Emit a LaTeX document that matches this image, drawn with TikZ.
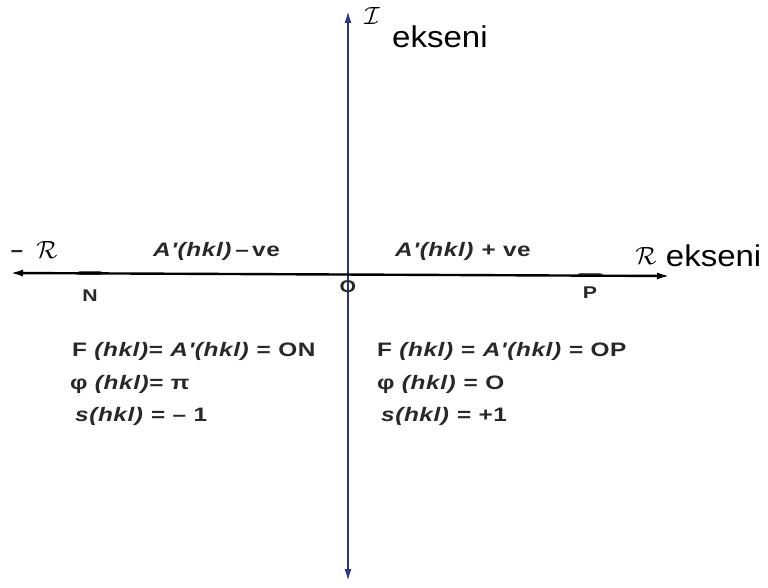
\documentclass[tikz,border=0pt]{standalone}
\usepackage{fontspec}
\setmainfont{Liberation Sans}
\newfontfamily\lblfont[FakeStretch=1.25,LetterSpace=3]{Liberation Sans}
\newfontfamily\ekfont[FakeStretch=1.1]{Liberation Sans}
\usepackage{xcolor}
\usetikzlibrary{arrows.meta,positioning}
\definecolor{axisblue}{RGB}{40,55,130}
\definecolor{txtgray}{RGB}{40,40,40}

\begin{document}
\begin{tikzpicture}[
    x=1pt, y=-1pt,
    axis/.style={line width=2.4pt, {Latex[length=13pt,width=7pt]}-{Latex[length=13pt,width=7pt]}},
    tickmark/.style={line width=4pt, gray!70!black, line cap=round},
    lbl/.style={font=\lblfont\fontsize{19.5}{22}\selectfont\bfseries, text=txtgray, inner sep=0pt, anchor=west},
    pt/.style={font=\lblfont\fontsize{17}{20}\selectfont\bfseries, text=txtgray, inner sep=0pt},
    ek/.style={font=\ekfont\fontsize{30}{34}\selectfont, inner sep=0pt, anchor=west}
]
\useasboundingbox (0,0) rectangle (768,588);

\coordinate (O) at (348,273);
\coordinate (Rminus) at (10,273);
\coordinate (Rplus) at (670,276);
\coordinate (Itop) at (348,10);
\coordinate (Ibot) at (348,582);
\coordinate (Nm) at (90,273);
\coordinate (Pm) at (590,275);

\draw[tickmark] ([xshift=-10pt]Nm) -- ([xshift=10pt]Nm);
\draw[tickmark] ([xshift=-10pt]Pm) -- ([xshift=10pt]Pm);
\draw[axis, axisblue] (Ibot) -- (Itop);
\draw[axis] (Rminus) -- (Rplus);

\node[pt] (o) at (348,287) {O};
\node[pt] (n) at (90,296) {N};
\node[pt] (p) at (590,293) {P};

\node[inner sep=0pt, text=txtgray] (minus) at (17,254) {\fontsize{22}{24}\selectfont\bfseries –};
\node[inner sep=0pt] (mR) at (47,250) {\fontsize{34}{36}\selectfont$\mathcal{R}$};
\node[inner sep=0pt] (pR) at (646,256) {\fontsize{32}{34}\selectfont$\mathcal{R}$};
\node[ek, right=9pt of pR] (ekR) {ekseni};
\node[inner sep=0pt] (iI) at (372,16) {\fontsize{26}{28}\selectfont$\mathcal{I}$};
\node[ek] (ekI) at (392,37) {ekseni};

\node[lbl] (neg) at (153,251) {\textit{A'(hkl)}\,–\,ve};
\node[lbl] (pos) at (395,251) {\textit{A'(hkl)} + ve};

\node[lbl] (fl) at (72,351) {F \textit{(hkl)}= \textit{A'(hkl)} = ON};
\node[lbl] (phil) at (70,384) {φ \textit{(hkl)}= π};
\node[lbl] (sl) at (75,416) {\textit{s(hkl)} = – 1};

\node[lbl] (fr) at (377,351) {F \textit{(hkl)} = \textit{A'(hkl)} = OP};
\node[lbl] (phir) at (377,384) {φ \textit{(hkl)} = O};
\node[lbl] (sr) at (381,416) {\textit{s(hkl)} = +1};
\end{tikzpicture}
\end{document}
